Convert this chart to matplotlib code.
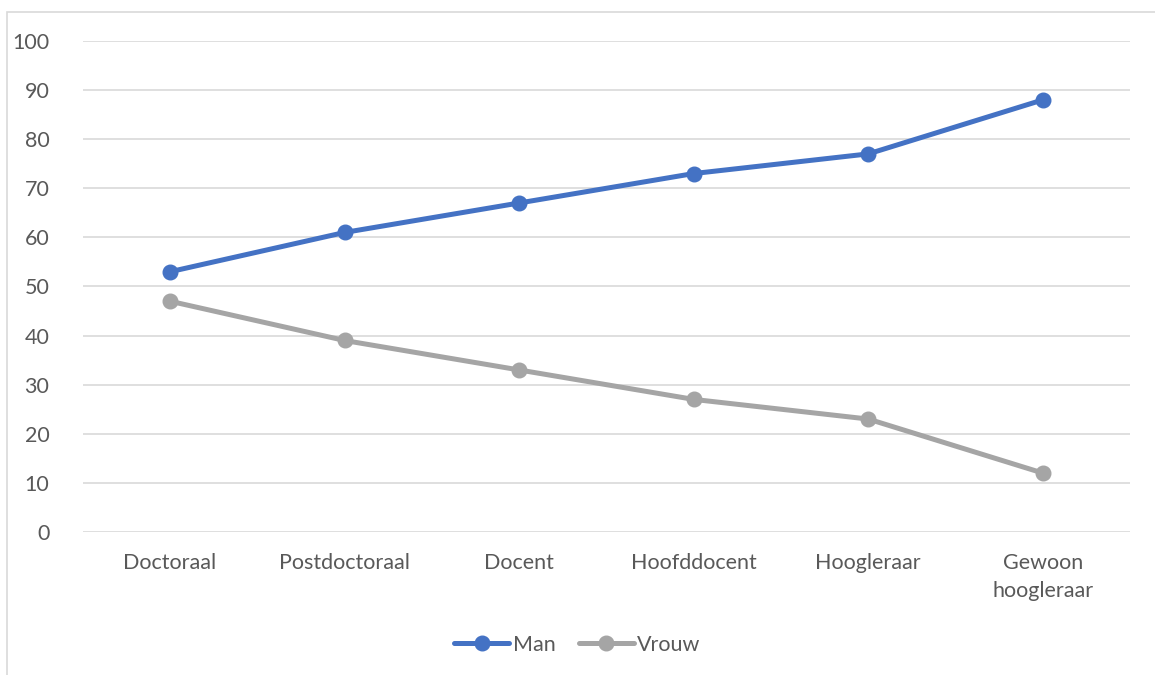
import matplotlib.pyplot as plt
from matplotlib.patches import Rectangle

# percentages per academic rank
categories = ["Doctoraal", "Postdoctoraal", "Docent", "Hoofddocent", "Hoogleraar", "Gewoon\nhoogleraar"]
man = [53, 61, 67, 73, 77, 88]
vrouw = [47, 39, 33, 27, 23, 12]

plt.rcParams['font.family'] = ['Lato', 'DejaVu Sans']
text_color = '#595959'

fig = plt.figure(figsize=(11.55, 6.75), dpi=100)
ax = fig.add_axes([0.0716, 0.2119, 0.9068, 0.7274])

# chart frame (only top/left edges fall inside the image)
fig.patches.append(Rectangle((7 / 1155, -0.1), 1.2, 1 - 12 / 675 + 0.1,
                             transform=fig.transFigure, fill=False,
                             edgecolor='#D9D9D9', linewidth=1.2))

x = list(range(len(categories)))
ax.plot(x, man, color='#4472C4', linewidth=3.6, marker='o', markersize=10.5,
        label='Man', solid_capstyle='round', zorder=3)
ax.plot(x, vrouw, color='#A5A5A5', linewidth=3.6, marker='o', markersize=10.5,
        label='Vrouw', solid_capstyle='round', zorder=3)

ax.set_xlim(-0.5, len(categories) - 0.5)
ax.set_ylim(0, 100)
ax.set_yticks(range(0, 101, 10))
ax.set_xticks(x)
ax.set_xticklabels(categories, linespacing=1.5)
ax.grid(axis='y', color='#D9D9D9', linewidth=1.2)
ax.set_axisbelow(True)
for s in ax.spines.values():
    s.set_visible(False)
ax.tick_params(length=0, labelsize=15.5, colors=text_color, pad=15)
ax.tick_params(axis='y', pad=24)

leg = fig.legend(loc='center', bbox_to_anchor=(0.5, 1 - 645 / 675), ncol=2,
                 frameon=False, fontsize=15.5, handlelength=2.55,
                 handletextpad=0.15, columnspacing=1.1)
for t in leg.get_texts():
    t.set_color(text_color)

fig.savefig('out.png', dpi=100)
